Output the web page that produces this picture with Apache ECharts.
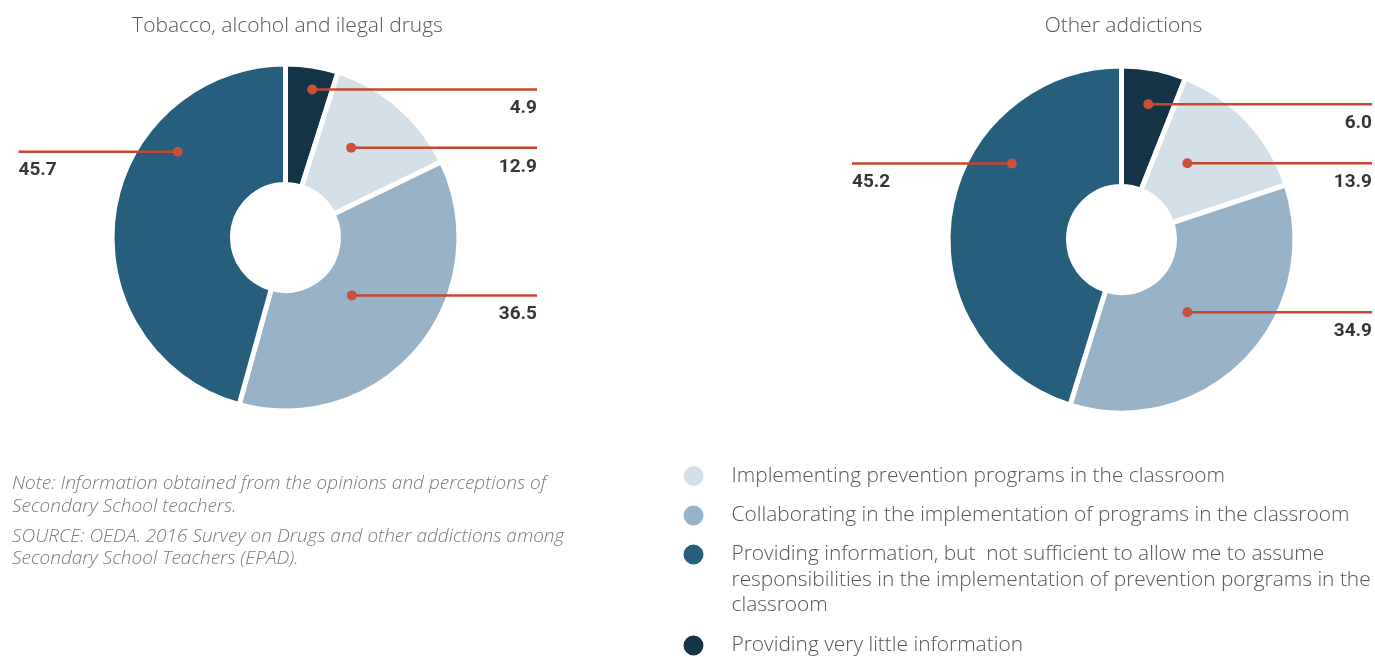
<!DOCTYPE html>
<html>
<head>
<meta charset="utf-8">
<script src="https://cdn.jsdelivr.net/npm/echarts@6/dist/echarts.min.js"></script>
<style>
  html, body { margin: 0; padding: 0; background: #ffffff; }
  #chart { width: 1375px; height: 657px; }
</style>
</head>
<body>
<div id="chart"></div>
<script>
// Response categories, in slice order (clockwise from 12 o'clock)
const categories = [
  'Providing very little information',
  'Implementing prevention programs in the classroom',
  'Collaborating in the implementation of programs in the classroom',
  'Providing information, but  not sufficient to allow me to assume responsibilities in the implementation of prevention porgrams in the classroom'
];
// Order in which the categories are listed in the legend
const legendOrder = [1, 2, 3, 0];

// Percentages per donut
const tobaccoValues = [4.9, 12.9, 36.5, 45.7];
const otherValues = [6.0, 13.9, 34.9, 45.2];

const chartTitles = ['Tobacco, alcohol and ilegal drugs', 'Other addictions'];

const noteLines = [
  'Note: Information obtained from the opinions and perceptions of',
  'Secondary School teachers.',
  'SOURCE: OEDA. 2016 Survey on Drugs and other addictions among',
  'Secondary School Teachers (EPAD).'
];

// Legend text with its manual line breaks
const legendWrapped = {
  [categories[3]]: 'Providing information, but  not sufficient to allow me to assume\nresponsibilities in the implementation of prevention porgrams in the\nclassroom'
};

// ---- styling / layout ----
const sliceColors = ['#143448', '#d4dfe8', '#98b2c7', '#265f7d'];
const leaderColor = '#c6472f';
const dotColor = '#c9503a';
const LIGHT_FONT = '"Open Sans", Roboto, sans-serif';
const R_OUT = 171, R_IN = 55.5, GAP = 5;
const LEGEND_LINE = 25.5;

// Each donut: centre, reach of the leader lines to either side,
// and where each leader starts inside its slice
// (fraction along the slice's arc, fraction of the outer radius).
const donuts = [
  {
    values: tobaccoValues, title: chartTitles[0],
    center: [285.5, 237.5], reachLeft: 267, reachRight: 251.5,
    anchors: [[0.58, 0.88], [0.40, 0.65], [0.51, 0.515], [0.687, 0.806]]
  },
  {
    values: otherValues, title: chartTitles[1],
    center: [1121.5, 239.5], reachLeft: 269.5, reachRight: 250.5,
    anchors: [[0.52, 0.806], [0.384, 0.589], [0.527, 0.574], [0.66, 0.78]]
  }
];

function polarPoint(center, r, deg) {
  const a = deg * Math.PI / 180;
  return [center[0] + r * Math.sin(a), center[1] - r * Math.cos(a)];
}

const graphics = [];

donuts.forEach(function (d) {
  // chart title
  graphics.push({
    type: 'text', z: 100,
    style: {
      x: d.center[0] + 2, y: 26.5, text: d.title, align: 'center', verticalAlign: 'middle',
      font: '300 21px ' + LIGHT_FONT, fill: '#555555'
    }
  });
  const total = d.values.reduce(function (s, v) { return s + v; }, 0);
  let acc = 0;
  d.values.forEach(function (v, i) {
    const start = acc / total * 360;
    const span = v / total * 360;
    acc += v;
    const ang = start + d.anchors[i][0] * span;
    const p = polarPoint(d.center, d.anchors[i][1] * R_OUT, ang);
    const toLeft = ang > 180;
    const edgeX = toLeft ? d.center[0] - d.reachLeft : d.center[0] + d.reachRight;
    graphics.push({
      type: 'line', z: 100,
      shape: { x1: p[0], y1: p[1], x2: edgeX, y2: p[1] },
      style: { stroke: leaderColor, lineWidth: 2.5 }
    });
    graphics.push({
      type: 'circle', z: 101,
      shape: { cx: p[0], cy: p[1], r: 5 },
      style: { fill: dotColor }
    });
    graphics.push({
      type: 'text', z: 101,
      style: {
        x: edgeX, y: p[1] + 19, text: v.toFixed(1),
        align: toLeft ? 'left' : 'right', verticalAlign: 'middle',
        font: 'bold 19px Roboto, "Liberation Sans", sans-serif', fill: '#363636'
      }
    });
  });
});

// footnote
const noteY = [484, 507, 537, 559];
noteLines.forEach(function (t, i) {
  graphics.push({
    type: 'text', z: 100,
    style: {
      x: 12, y: noteY[i], text: t, verticalAlign: 'middle',
      font: 'italic 300 19px ' + LIGHT_FONT, fill: '#7a7a7a'
    }
  });
});

// legend: one block per entry; a wrapped entry is padded with blank lines on top
// so that its bullet lines up with the first line of text
function legendText(name) {
  const lines = (legendWrapped[name] || name).split('\n');
  const out = lines.map(function (l) { return '{g|}{t|' + l + '}'; });
  for (let i = 1; i < lines.length; i++) out.unshift('{g|}');
  return out.join('\n');
}
const legendTops = [463.25, 502.75, 490.75, 632.75];
const legends = legendOrder.map(function (ci, k) {
  return {
    orient: 'vertical', left: 681.5, top: legendTops[k], padding: 0,
    data: [categories[ci]], icon: 'circle', itemWidth: 22, itemHeight: 22,
    selectedMode: false,
    formatter: legendText,
    textStyle: {
      lineHeight: LEGEND_LINE,
      rich: {
        g: { width: 22, lineHeight: LEGEND_LINE },
        t: {
          fontFamily: LIGHT_FONT, fontWeight: 300, fontSize: 20.9, color: '#555555',
          lineHeight: LEGEND_LINE
        }
      }
    }
  };
});

const chart = echarts.init(document.getElementById('chart'), null, { renderer: 'canvas' });
chart.setOption({
  animation: false,
  backgroundColor: '#ffffff',
  legend: legends,
  series: donuts.map(function (d) {
    return {
      type: 'pie',
      center: d.center,
      radius: [R_IN - GAP / 2, R_OUT + GAP / 2],
      startAngle: 90,
      clockwise: true,
      silent: true,
      label: { show: false },
      labelLine: { show: false },
      itemStyle: { borderColor: '#ffffff', borderWidth: GAP },
      emphasis: { disabled: true },
      data: d.values.map(function (v, i) {
        return { name: categories[i], value: v, itemStyle: { color: sliceColors[i] } };
      })
    };
  }),
  graphic: { elements: graphics }
});
</script>
</body>
</html>
